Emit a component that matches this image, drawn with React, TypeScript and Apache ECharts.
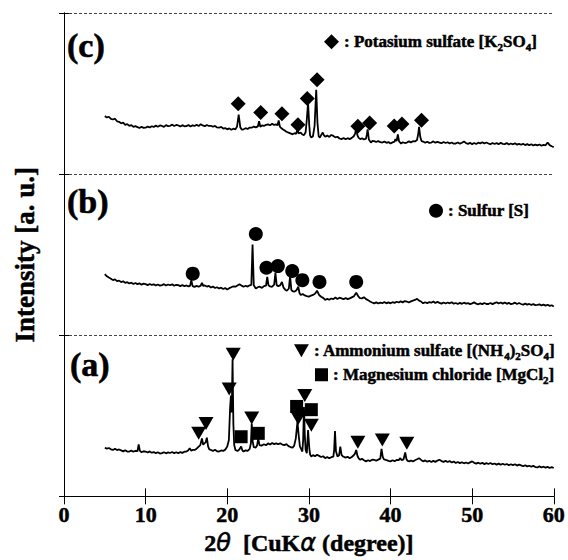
import React, { useEffect, useRef } from "react";
import * as echarts from "echarts";

const SERIF = '"Liberation Serif", "Times New Roman", serif';

const xTicks = [0, 10, 20, 30, 40, 50, 60];
const panelOffsetA = 0;
const panelOffsetB = 100;
const panelOffsetC = 200;

// (a) trace: [2theta, local intensity]
const traceA: [number, number][] = [
  [5,30.2],[5.25,29.6],[5.5,30.0],[5.75,29.2],[6,28.8],[6.25,29.5],[6.5,28.7],[6.75,29.1],[7,28.5],[7.25,27.9],[7.5,28.6],[7.75,27.8],[8,27.8],[8.25,28.4],[8.5,27.7],[8.75,28.3],[9,28.0],[9.15,32.3],[9.3,28.2],[9.5,27.4],[9.75,28.0],[10,27.8],[10.25,27.2],[10.5,27.9],[10.75,27.1],[11,27.5],[11.25,26.8],[11.5,27.4],[11.75,26.6],[12,26.8],[12.25,27.4],[12.5,26.7],[12.75,27.3],[13,26.9],[13.25,27.5],[13.5,26.8],[13.75,27.4],[14,26.8],[14.25,27.5],[14.5,27.0],[14.75,27.7],[15,27.8],[15.2,28.4],[15.4,29.8],[15.6,28.3],[15.8,28.9],[16,28.8],[16.25,29.6],[16.5,30.9],[16.7,31.8],[16.9,36.0],[17.05,32.0],[17.2,32.9],[17.35,33.5],[17.5,36.4],[17.65,31.0],[17.8,29.2],[18,28.8],[18.25,28.2],[18.5,28.9],[18.75,28.0],[19,27.8],[19.25,28.5],[19.5,28.2],[19.75,29.0],[20,30.9],[20.2,35],[20.35,55],[20.45,62.6],[20.55,52],[20.65,85.1],[20.75,45],[20.85,32],[21,28.8],[21.25,28.1],[21.5,29.2],[21.7,30.9],[21.85,28.6],[22,27.8],[22.25,28.6],[22.5,28.2],[22.75,29.5],[22.9,33],[23.0,45.2],[23.12,34],[23.25,30.5],[23.5,30.3],[23.65,31.5],[23.8,36.0],[23.95,31.8],[24.2,31.5],[24.5,32.3],[24.75,31.7],[25,32.9],[25.25,32.2],[25.5,33.1],[25.75,32.4],[26,32.9],[26.25,32.3],[26.5,33.0],[26.75,32.1],[27,31.8],[27.25,32.4],[27.5,31.2],[27.75,30.6],[28,30.2],[28.2,31.5],[28.4,36],[28.6,46.2],[28.75,38],[28.9,31],[29.05,29.5],[29.2,27.8],[29.3,35],[29.4,55.4],[29.5,38],[29.6,29],[29.75,26.8],[29.9,41.1],[30.05,30],[30.15,26],[30.3,24.7],[30.5,25.6],[30.75,24.9],[31,25.8],[31.25,25.1],[31.5,24.4],[31.75,24.9],[32,23.7],[32.25,24.4],[32.5,23.6],[32.75,24.3],[33,24.7],[33.1,29],[33.2,40.5],[33.32,28],[33.5,24.7],[33.7,25.5],[33.85,30.9],[34.0,25.8],[34.2,24.7],[34.5,24.0],[34.75,24.6],[35,23.7],[35.25,24.4],[35.5,25.5],[35.65,26.5],[35.8,28.8],[35.95,25.2],[36.1,23.6],[36.3,22.7],[36.5,23.3],[36.75,22.4],[37,21.7],[37.25,22.4],[37.5,21.9],[37.75,22.8],[38,22.7],[38.25,22.1],[38.5,22.8],[38.75,23.4],[38.9,29.4],[39.05,24.5],[39.2,23.0],[39.4,22.7],[39.75,22.0],[40,21.7],[40.25,22.4],[40.5,21.8],[40.75,22.6],[41,22.5],[41.2,23.7],[41.35,22.5],[41.6,23.0],[41.8,27.2],[41.95,23.2],[42.1,22.0],[42.3,21.7],[42.5,22.3],[42.75,21.6],[43,22.4],[43.25,23.0],[43.5,23.7],[43.75,22.6],[44,21.7],[44.25,22.3],[44.5,21.5],[44.75,22.1],[45,21.3],[45.25,22.0],[45.5,21.4],[45.75,22.2],[46,22.7],[46.25,21.9],[46.5,21.4],[46.75,22.0],[47,21.3],[47.25,21.9],[47.5,21.0],[47.75,21.6],[48,20.7],[48.25,21.3],[48.5,20.6],[48.75,21.2],[49,20.5],[49.25,21.0],[49.5,20.4],[49.75,21.1],[50,21.7],[50.25,20.8],[50.5,20.3],[50.75,20.9],[51,20.2],[51.25,20.8],[51.5,20.0],[51.75,20.6],[52,20.1],[52.25,20.7],[52.5,19.9],[52.75,20.4],[53,19.7],[53.25,20.3],[53.5,19.6],[53.75,20.2],[54,19.6],[54.25,20.1],[54.5,19.3],[54.75,19.9],[55,19.4],[55.25,19.9],[55.5,19.1],[55.75,19.7],[56,19.2],[56.25,18.7],[56.5,19.3],[56.75,18.6],[57,19.0],[57.25,18.4],[57.5,18.9],[57.75,18.2],[58,18.0],[58.25,18.6],[58.5,17.9],[58.75,18.4],[59,17.8],[59.25,18.3],[59.5,17.6],[59.75,18.1],[60,17.6]
];

// (b) trace
const traceB: [number, number][] = [
  [5,37.9],[5.25,36.6],[5.5,35.8],[5.75,35.1],[6,34.2],[6.25,34.7],[6.5,33.6],[6.75,33.9],[7,33.0],[7.25,33.5],[7.5,32.5],[7.75,32.9],[8,32.1],[8.25,32.6],[8.5,31.8],[8.75,32.4],[9,31.7],[9.25,32.2],[9.5,31.4],[9.75,32.0],[10,31.7],[10.25,31.1],[10.5,31.8],[10.75,31.2],[11,31.6],[11.25,30.9],[11.5,31.5],[11.75,30.8],[12,31.1],[12.25,31.7],[12.5,30.9],[12.75,31.5],[13,31.0],[13.25,31.6],[13.5,30.7],[13.75,31.3],[14,31.1],[14.25,30.5],[14.5,31.2],[14.75,30.4],[15,30.9],[15.25,30.2],[15.45,30.8],[15.6,34.2],[15.75,30.5],[16,30.0],[16.25,30.6],[16.5,30.1],[16.75,30.8],[16.9,32.5],[17.05,30.6],[17.25,30.9],[17.5,30.2],[17.75,30.6],[18,29.6],[18.25,30.2],[18.5,29.3],[18.75,29.8],[19,29.0],[19.25,29.5],[19.5,28.7],[19.75,29.3],[20,28.4],[20.25,29.2],[20.5,29.8],[20.75,30.4],[21,30.1],[21.25,30.9],[21.5,31.7],[21.75,30.8],[22,30.1],[22.25,30.7],[22.5,30.2],[22.75,31.0],[22.95,31.2],[23.1,56.3],[23.25,31.0],[23.5,29.0],[23.75,29.8],[24,30.1],[24.25,29.4],[24.5,30.5],[24.75,30.8],[24.9,36.2],[25.05,31.0],[25.25,30.3],[25.5,30.1],[25.75,31.4],[25.9,38.7],[26.05,31.2],[26.25,30.4],[26.5,31.1],[26.7,33.1],[26.9,29.5],[27.1,28.3],[27.3,27.6],[27.55,29.0],[27.7,36.8],[27.85,28.2],[28,27.4],[28.2,27.0],[28.45,27.8],[28.55,28.5],[28.7,30.1],[28.85,26.2],[29,25.0],[29.25,25.6],[29.5,24.7],[29.75,24.3],[30,23.9],[30.25,24.6],[30.5,25.0],[30.75,25.8],[31.0,27.6],[31.25,25.0],[31.5,23.9],[31.75,23.2],[32,21.9],[32.25,22.6],[32.5,22.0],[32.75,22.8],[33,22.4],[33.25,23.4],[33.5,22.5],[33.75,23.3],[34,22.9],[34.25,22.3],[34.5,23.1],[34.75,22.4],[35,22.9],[35.25,23.5],[35.5,24.1],[35.8,26.4],[36.05,24.2],[36.25,23.0],[36.5,22.9],[36.75,23.6],[37,22.4],[37.25,21.8],[37.5,20.9],[37.75,20.3],[38,19.8],[38.25,20.4],[38.5,19.7],[38.75,20.3],[39,19.9],[39.25,20.6],[39.5,19.8],[39.75,20.4],[40,19.8],[40.25,20.5],[40.5,20.1],[40.75,20.8],[41,20.3],[41.25,21.0],[41.5,20.4],[41.75,21.2],[42,20.9],[42.25,20.3],[42.5,21.0],[42.75,21.5],[43,21.9],[43.25,22.6],[43.5,21.5],[43.75,20.9],[44,19.8],[44.25,20.5],[44.5,19.9],[44.75,20.6],[45,20.2],[45.25,20.9],[45.5,20.0],[45.75,20.7],[46,20.1],[46.25,19.6],[46.5,20.3],[46.75,19.7],[47,20.3],[47.25,19.8],[47.5,20.5],[47.75,19.6],[48,20.0],[48.25,19.4],[48.5,20.1],[48.75,19.5],[49,20.2],[49.25,19.6],[49.5,19.9],[49.75,19.3],[50,19.8],[50.25,20.4],[50.5,19.6],[50.75,19.2],[51,19.8],[51.25,19.3],[51.5,20.0],[51.75,19.4],[52,19.4],[52.25,20.0],[52.5,19.3],[52.75,19.9],[53,20.5],[53.25,19.7],[53.5,20.3],[53.75,19.6],[54,20.3],[54.25,19.5],[54.5,20.1],[54.75,19.3],[55,19.6],[55.25,20.2],[55.5,19.4],[55.75,20.0],[56,19.4],[56.25,18.9],[56.5,19.6],[56.75,19.0],[57,19.4],[57.25,18.8],[57.5,19.3],[57.75,18.7],[58,18.8],[58.25,19.2],[58.5,18.5],[58.75,19.0],[59,18.4],[59.25,18.9],[59.5,18.2],[59.75,18.6],[60,17.8]
];

// (c) trace
const traceC: [number, number][] = [
  [5,36.0],[5.25,35.2],[5.5,35.6],[5.75,34.3],[6,33.9],[6.25,34.4],[6.5,32.8],[6.75,32.5],[7,31.5],[7.25,31.9],[7.5,30.6],[7.75,31.0],[8,29.9],[8.25,30.4],[8.5,29.3],[8.75,29.8],[9,29.2],[9.25,28.6],[9.5,29.4],[9.75,28.7],[10,28.8],[10.25,29.5],[10.5,28.9],[10.75,29.7],[11,29.3],[11.25,30.1],[11.5,29.4],[11.75,30.2],[12,29.9],[12.25,29.3],[12.5,30.4],[12.75,29.8],[13,30.0],[13.25,30.7],[13.5,29.9],[13.75,30.5],[14,30.2],[14.25,29.6],[14.5,30.4],[14.75,29.7],[15,29.8],[15.25,30.5],[15.5,29.6],[15.75,30.3],[16,29.9],[16.25,30.6],[16.5,29.8],[16.75,31.0],[17,30.2],[17.25,29.7],[17.5,30.5],[17.75,29.9],[18,30.0],[18.25,29.4],[18.5,29.9],[18.75,29.0],[19,28.8],[19.25,29.3],[19.5,28.3],[19.75,28.6],[20,27.8],[20.25,28.4],[20.5,27.5],[20.75,28.2],[21,27.8],[21.2,29.5],[21.4,37.0],[21.6,29.0],[21.8,27.6],[22,27.8],[22.25,28.5],[22.5,28.0],[22.75,28.9],[23,28.8],[23.25,29.5],[23.5,29.0],[23.75,29.6],[23.9,32.9],[24.05,29.4],[24.25,30.2],[24.5,29.9],[24.75,30.6],[25,30.9],[25.25,30.3],[25.5,31.2],[25.75,30.5],[26,30.9],[26.15,30.2],[26.3,33.3],[26.45,29.5],[26.6,28.6],[26.8,27.8],[27,27.2],[27.25,26.3],[27.5,25.8],[27.75,25.3],[28,24.7],[28.25,25.4],[28.45,25.0],[28.6,27.8],[28.75,25.2],[29,25.8],[29.2,24.6],[29.4,24.2],[29.6,26],[29.75,34],[29.9,44.2],[30.05,30],[30.15,24],[30.3,22.7],[30.5,23.5],[30.7,30],[30.9,52.3],[31.05,32],[31.2,23.5],[31.35,22.7],[31.5,24.2],[31.7,25.8],[31.85,24.0],[32,23.2],[32.25,23.9],[32.5,23.1],[32.75,24.3],[33,23.7],[33.25,22.8],[33.5,23.2],[33.75,22.1],[34,21.7],[34.25,22.4],[34.5,21.6],[34.75,22.3],[35,21.7],[35.25,22.5],[35.5,23.5],[35.65,25.0],[35.8,28.0],[35.95,24.0],[36.1,22.5],[36.3,21.7],[36.5,22.3],[36.75,21.5],[37,22.0],[37.1,24.5],[37.2,27.8],[37.35,21.5],[37.6,19.6],[37.8,20.6],[38,20.5],[38.25,19.9],[38.5,20.6],[38.75,19.8],[39,19.6],[39.25,20.2],[39.5,19.4],[39.75,19.9],[40,19.0],[40.25,19.7],[40.5,20.2],[40.6,21.7],[40.75,20.5],[40.9,24.7],[41.05,20.3],[41.3,19.0],[41.5,19.8],[41.75,19.3],[42,19.6],[42.25,20.3],[42.5,19.7],[42.75,20.4],[43,20.3],[43.25,21.2],[43.4,25],[43.5,29.3],[43.65,23],[43.8,20.5],[44,20.2],[44.25,19.5],[44.5,20.1],[44.75,19.4],[45,19.6],[45.25,20.3],[45.5,19.5],[45.75,20.0],[46,19.6],[46.25,19.2],[46.5,19.9],[46.75,19.3],[47,19.8],[47.25,19.0],[47.5,19.6],[47.75,18.9],[48,19.0],[48.25,19.6],[48.5,18.9],[48.75,19.5],[49,20.3],[49.25,19.2],[49.5,18.8],[49.75,19.4],[50,18.6],[50.25,19.3],[50.5,18.7],[50.75,19.5],[51,19.1],[51.25,19.8],[51.5,19.0],[51.75,19.6],[52,19.0],[52.25,18.5],[52.5,19.3],[52.75,18.7],[53,19.2],[53.25,18.6],[53.5,19.4],[53.75,18.8],[54,18.6],[54.25,19.3],[54.5,18.4],[54.75,19.0],[55,18.5],[55.25,19.1],[55.5,18.3],[55.75,18.8],[56,18.2],[56.25,18.9],[56.5,18.0],[56.75,18.6],[57,17.9],[57.25,18.5],[57.5,17.8],[57.75,18.3],[58,17.8],[58.25,18.4],[58.5,17.6],[58.75,18.1],[59,17.9],[59.25,19.6],[59.5,18.0],[59.75,17.3],[60,16.8]
];

// Peak marker positions (2theta, local height)
const k2so4Marks: [number, number][] = [[21.34,43.7],[24.1,38.2],[26.7,37.4],[28.66,30.7],[29.8,47],[31.0,58.5],[36.0,29.7],[37.44,31.7],[40.45,29.9],[41.4,31.1],[43.8,33.4]];
const sulfurMarks: [number, number][] = [[15.77,38.2],[23.5,62.8],[24.8,41.9],[26.2,42.9],[27.96,39.9],[29.2,34.2],[31.3,33.1],[35.8,33.1]];
const amsMarks: [number, number][] = [[16.5,39.1],[17.4,45.2],[20.24,66.7],[20.73,88.2],[23.0,48.7],[28.7,48.3],[29.5,62.6],[30.3,44.2],[36.0,33.6],[39.0,35.0],[42.0,32.9]];
const mgcl2Marks: [number, number][] = [[21.7,37.0],[23.8,39.1],[28.5,55.8],[30.3,53.8]];

const NAME_K = "Potasium sulfate [K2SO4]";
const NAME_S = "Sulfur [S]";
const NAME_A = "Ammonium sulfate [(NH4)2SO4]";
const NAME_M = "Magnesium chloride [MgCl2]";

const legendRich: Record<string, string> = {
  [NAME_K]: "{t|: Potasium sulfate [K}{s|2}{t|SO}{s|4}{t|]}",
  [NAME_S]: "{t|: Sulfur [S]}",
  [NAME_A]: "{t|: Ammonium sulfate [(NH}{s|4}{t|)}{s|2}{t|SO}{s|4}{t|]}",
  [NAME_M]: "{t|: Magnesium chloride [MgCl}{s|2}{t|]}",
};

const TRI_DOWN = "path://M0,0L16,0L8,14Z";

const shift = (pts: [number, number][], off: number) => pts.map(([x, y]) => [x, y + off]);

export default function App() {
  const ref = useRef<HTMLDivElement>(null);
  useEffect(() => {
    if (!ref.current) return;
    const chart = echarts.init(ref.current, null, { renderer: "svg" });
    const heavy = { textBorderColor: "#000", textBorderWidth: 0.5 };
    const rich = {
      t: { fontFamily: SERIF, fontWeight: "bold", fontSize: 17, color: "#000", lineHeight: 22, ...heavy },
      s: { fontFamily: SERIF, fontWeight: "bold", fontSize: 11, color: "#000", lineHeight: 11, verticalAlign: "bottom", ...heavy },
    };
    const mkLegend = (name: string, icon: string, left: number, top: number, w = 14, h = 14) => ({
      show: true,
      data: [{ name, icon, itemStyle: { color: "#000", opacity: 1 } }],
      left,
      top,
      padding: 0,
      itemWidth: w,
      itemHeight: h,
      selectedMode: false,
      formatter: (n: string) => legendRich[n] || n,
      textStyle: { rich },
    });
    const lineSeries = (data: number[][], name: string) => ({
      type: "line",
      name,
      data,
      showSymbol: false,
      symbol: "none",
      lineStyle: { color: "#000", width: 1.8 },
      xAxisIndex: 0,
      yAxisIndex: 0,
      z: 2,
    });
    const markSeries = (data: number[][], name: string, symbol: string, size: number | number[]) => ({
      type: "scatter",
      name,
      data,
      symbol,
      symbolSize: size,
      itemStyle: { color: "#000", opacity: 1 },
      xAxisIndex: 0,
      yAxisIndex: 0,
      z: 3,
    });
    const option: any = {
      animation: false,
      backgroundColor: "#fff",
      grid: { left: 64, right: 12, top: 13, bottom: 58 },
      xAxis: [
        {
          type: "value",
          min: 0,
          max: 60,
          interval: 10,
          position: "bottom",
          axisLine: { show: true, lineStyle: { color: "#000", width: 1 } },
          axisTick: { show: true, inside: true, length: 8, lineStyle: { color: "#000" } },
          splitLine: { show: false },
          axisLabel: {
            show: true,
            margin: 7,
            color: "#000",
            fontFamily: SERIF,
            fontWeight: "bold",
            fontSize: 22,
            ...heavy,
            formatter: (v: number) => (xTicks.includes(v) ? String(v) : ""),
          },
          name: "{n|2}{g|θ}{n|  [CuK}{g|α}{n| (degree)]}",
          nameLocation: "middle",
          nameGap: 31,
          nameTextStyle: {
            rich: {
              n: { fontFamily: SERIF, fontWeight: "bold", fontSize: 24, color: "#000", ...heavy },
              g: { fontFamily: '"DejaVu Sans", sans-serif', fontStyle: "italic", fontWeight: "normal", fontSize: 24, color: "#000", ...heavy },
            },
          },
        },
        {
          type: "value",
          min: 0,
          max: 60,
          interval: 10,
          position: "top",
          axisLine: { show: true, lineStyle: { color: "#000", width: 1 } },
          axisTick: { show: true, inside: true, length: 8, lineStyle: { color: "#000" } },
          axisLabel: { show: false },
          splitLine: { show: false },
        },
      ],
      yAxis: [
        {
          type: "value",
          min: 0,
          max: 300,
          interval: 100,
          position: "left",
          axisLine: { show: true, lineStyle: { color: "#000", width: 1 } },
          axisTick: { show: true, inside: true, length: 5, lineStyle: { color: "#000" } },
          axisLabel: { show: false },
          splitLine: { show: true, lineStyle: { color: "#444", width: 1, type: [3, 2] } },
          name: "Intensity [a. u.]",
          nameLocation: "middle",
          nameGap: 26,
          nameTextStyle: { fontFamily: SERIF, fontWeight: "bold", fontSize: 27, color: "#000", ...heavy },
        },
        {
          type: "value",
          min: 0,
          max: 300,
          interval: 100,
          position: "right",
          axisLine: { show: true, lineStyle: { color: "#000", width: 1 } },
          axisTick: { show: true, inside: true, length: 5, lineStyle: { color: "#000" } },
          axisLabel: { show: false },
          splitLine: { show: false },
        },
      ],
      legend: [
        mkLegend(NAME_K, "diamond", 324, 33, 15, 15),
        mkLegend(NAME_S, "circle", 429, 202, 14, 14),
        mkLegend(NAME_A, TRI_DOWN, 294, 342, 15, 13),
        mkLegend(NAME_M, "rect", 315, 366, 13, 13),
      ],
      graphic: [
        { type: "text", x: 67, y: 45, style: { text: "(c)", font: `bold 34px ${SERIF}`, fill: "#000", stroke: "#000", lineWidth: 0.6, verticalAlign: "middle" } },
        { type: "text", x: 67, y: 201, style: { text: "(b)", font: `bold 34px ${SERIF}`, fill: "#000", stroke: "#000", lineWidth: 0.6, verticalAlign: "middle" } },
        { type: "text", x: 70, y: 364, style: { text: "(a)", font: `bold 34px ${SERIF}`, fill: "#000", stroke: "#000", lineWidth: 0.6, verticalAlign: "middle" } },
      ],
      series: [
        lineSeries(shift(traceA, panelOffsetA), "trace (a)"),
        lineSeries(shift(traceB, panelOffsetB), "trace (b)"),
        lineSeries(shift(traceC, panelOffsetC), "trace (c)"),
        markSeries(shift(k2so4Marks, panelOffsetC), NAME_K, "diamond", 15),
        markSeries(shift(sulfurMarks, panelOffsetB), NAME_S, "circle", 14),
        markSeries(shift(amsMarks, panelOffsetA), NAME_A, TRI_DOWN, [15, 13]),
        markSeries(shift(mgcl2Marks, panelOffsetA), NAME_M, "rect", 13),
      ],
    };
    chart.setOption(option);
    return () => chart.dispose();
  }, []);
  return (
    <div
      ref={ref}
      style={{ position: "absolute", left: 0, top: 0, width: 568, height: 560, background: "#fff" }}
    />
  );
}
